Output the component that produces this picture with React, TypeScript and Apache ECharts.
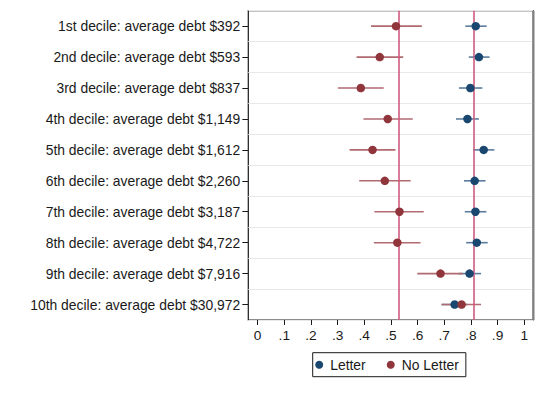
import React, { useEffect, useRef } from "react";
import * as echarts from "echarts";

const categories = [
  "1st decile: average debt $392",
  "2nd decile: average debt $593",
  "3rd decile: average debt $837",
  "4th decile: average debt $1,149",
  "5th decile: average debt $1,612",
  "6th decile: average debt $2,260",
  "7th decile: average debt $3,187",
  "8th decile: average debt $4,722",
  "9th decile: average debt $7,916",
  "10th decile: average debt $30,972",
];

const letterMean = [0.818, 0.83, 0.798, 0.787, 0.848, 0.814, 0.817, 0.822, 0.795, 0.739];
const letterLo = [0.779, 0.792, 0.755, 0.744, 0.808, 0.774, 0.777, 0.782, 0.754, 0.69];
const letterHi = [0.859, 0.87, 0.843, 0.83, 0.888, 0.855, 0.858, 0.863, 0.838, 0.788];

const noLetterMean = [0.519, 0.458, 0.387, 0.488, 0.431, 0.477, 0.532, 0.524, 0.686, 0.765];
const noLetterLo = [0.425, 0.371, 0.301, 0.397, 0.345, 0.381, 0.438, 0.436, 0.599, 0.69];
const noLetterHi = [0.616, 0.546, 0.473, 0.582, 0.517, 0.574, 0.623, 0.611, 0.77, 0.838];

const refLines = [0.527, 0.807];
const xTicks = [0, 0.1, 0.2, 0.3, 0.4, 0.5, 0.6, 0.7, 0.8, 0.9, 1];

const BLUE = "#1a476f";
const RED = "#90353b";
const BLUE_CI = "#5b7c9c";
const RED_CI = "#b06a70";
const REF = "#cf5b80";
const FONT = "'Liberation Sans', Arial, Helvetica, sans-serif";

function ciSeries(name: string, lo: number[], hi: number[], color: string) {
  return {
    type: "custom",
    name: name + " CI",
    silent: true,
    data: categories.map((c, i) => [lo[i], hi[i], i]),
    encode: { x: [0, 1], y: 2 },
    renderItem: (params: any, api: any) => {
      const i = api.value(2);
      const p1 = api.coord([api.value(0), i]);
      const p2 = api.coord([api.value(1), i]);
      return {
        type: "line",
        shape: { x1: p1[0], y1: p1[1], x2: p2[0], y2: p2[1] },
        style: { stroke: color, lineWidth: 1.6 },
      };
    },
    z: 3,
  };
}

export default function App() {
  const ref = useRef<HTMLDivElement>(null);
  useEffect(() => {
    document.body.style.margin = "0";
    if (!ref.current) return;
    const chart = echarts.init(ref.current, undefined, { renderer: "svg" });
    const fmt = (v: number) => {
      const r = Math.round(v * 10);
      if (r === 0) return "0";
      if (r === 10) return "1";
      return "." + r;
    };
    chart.setOption({
      animation: false,
      backgroundColor: "#ffffff",
      textStyle: { fontFamily: FONT },
      grid: {
        left: 248.3,
        top: 10.7,
        right: 11.7,
        bottom: 74,
        show: true,
        borderColor: "#1a1a1a",
        borderWidth: 1.2,
        backgroundColor: "transparent",
      },
      xAxis: {
        type: "value",
        min: -0.035,
        max: 1.034,
        axisLine: { show: false, onZero: false },
        splitLine: { show: false },
        axisTick: {
          show: true,
          length: 5,
          customValues: xTicks,
          lineStyle: { color: "#1a1a1a", width: 1 },
        },
        axisLabel: {
          customValues: xTicks,
          formatter: fmt,
          color: "#1a1a1a",
          fontSize: 13.7,
          fontFamily: FONT,
          margin: 8,
        },
      },
      yAxis: {
        type: "category",
        data: categories,
        inverse: true,
        axisLine: { show: false, onZero: false },
        axisTick: {
          show: true,
          alignWithLabel: true,
          length: 6,
          lineStyle: { color: "#1a1a1a", width: 1 },
        },
        axisLabel: {
          color: "#1a1a1a",
          fontSize: 13.9,
          fontFamily: FONT,
          margin: 8,
        },
        splitLine: { show: true, lineStyle: { color: "#e8e8e8", width: 1 } },
      },
      legend: {
        data: ["Letter", "No Letter"],
        left: 312.7,
        top: 352.7,
        orient: "horizontal",
        icon: "circle",
        itemWidth: 12,
        itemHeight: 8,
        itemGap: 21,
        padding: [5, 7, 5, 2.5],
        borderColor: "#1a1a1a",
        borderWidth: 1,
        textStyle: { color: "#1a1a1a", fontSize: 13.9, fontFamily: FONT },
      },
      graphic: [
        {
          type: "rect",
          shape: { x: 532.3, y: 10.7, width: 2.2, height: 309.3 },
          style: { fill: "#808080" },
          z: 100,
        },
      ],
      series: [
        {
          type: "line",
          name: "ref",
          data: [],
          silent: true,
          markLine: {
            silent: true,
            symbol: "none",
            label: { show: false },
            lineStyle: { color: REF, width: 1.6, type: "solid" },
            data: refLines.map((v) => ({ xAxis: v })),
          },
          z: 2,
        },
        ciSeries("Letter", letterLo, letterHi, BLUE_CI),
        ciSeries("No Letter", noLetterLo, noLetterHi, RED_CI),
        {
          type: "scatter",
          name: "Letter",
          symbol: "circle",
          symbolSize: 8.5,
          itemStyle: { color: BLUE, opacity: 1 },
          data: letterMean.map((v, i) => [v, i]),
          z: 5,
        },
        {
          type: "scatter",
          name: "No Letter",
          symbol: "circle",
          symbolSize: 8.5,
          itemStyle: { color: RED, opacity: 1 },
          data: noLetterMean.map((v, i) => [v, i]),
          z: 6,
        },
      ],
    });
    return () => chart.dispose();
  }, []);
  return <div ref={ref} style={{ width: 545, height: 394 }} />;
}
